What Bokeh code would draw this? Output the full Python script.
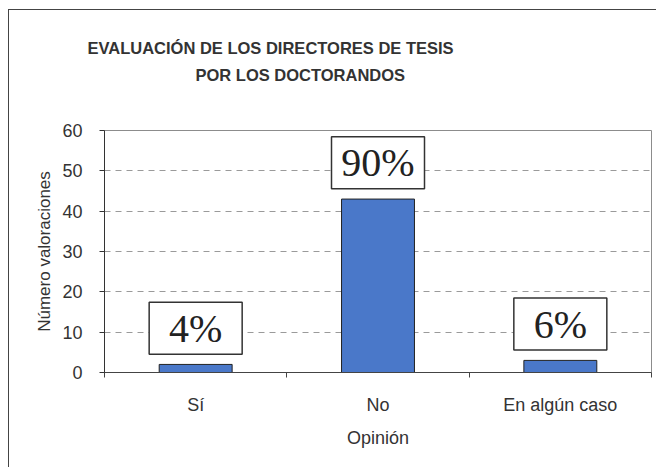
from bokeh.plotting import figure
from bokeh.models import FixedTicker, Title, ColumnDataSource, Range1d
from bokeh.core.properties import value
from bokeh.embed import file_html
from bokeh.resources import INLINE

# Survey data
categories = ["Sí", "No", "En algún caso"]
counts = [2, 43, 3]
y_ticks = [0, 10, 20, 30, 40, 50, 60]
title_lines = ["EVALUACIÓN DE LOS DIRECTORES DE TESIS", "POR LOS DOCTORANDOS"]

total = sum(counts)
percent_labels = [f"{round(100 * c / total)}%" for c in counts]
xs = [i + 0.5 for i in range(len(categories))]
label_y = [c + 9 for c in counts]

src = ColumnDataSource(dict(x=xs, count=counts, pct=percent_labels, ly=label_y))

SANS = "Liberation Sans"
SERIF = "Liberation Serif"
TXT = "#333333"

p = figure(width=648, height=458, output_backend="svg", toolbar_location=None,
           x_range=Range1d(0, len(categories)), y_range=Range1d(0, 60),
           min_border_left=95, min_border_right=6, min_border_top=120,
           min_border_bottom=96)
p.styles = {"margin-left": "8px", "margin-top": "9px",
            "border-left": "1px solid #444", "border-top": "1px solid #444"}
p.background_fill_color = "white"
p.border_fill_color = "white"
p.outline_line_color = "#8c8c8c"
p.outline_line_width = 1

# two-line heading; the lower line is added first so it sits nearer the frame
p.add_layout(Title(text=title_lines[1], align="left", offset=91, vertical_align="middle",
                   text_font=SANS, text_font_size="16.5px", text_font_style="bold",
                   text_color=TXT, standoff=91), "above")
p.add_layout(Title(text=title_lines[0], align="left", offset=-17, vertical_align="bottom",
                   text_font=SANS, text_font_size="16.5px", text_font_style="bold",
                   text_color=TXT, standoff=-75), "above")

# bars
p.vbar(x="x", top="count", width=0.4, source=src,
       fill_color="#4a78c9", line_color="#222222", line_width=1)

# percentage boxes
p.rect(x="x", y="ly", width=93, height=52, width_units="screen", height_units="screen",
       source=src, fill_color="white", line_color="#333333", line_width=1.5)
p.text(x="x", y="ly", text="pct", source=src, text_font=value(SERIF),
       text_font_size=value("40px"), text_align="center", text_baseline="middle",
       text_color="#222222")

# grid
p.xgrid.visible = False
p.ygrid.ticker = FixedTicker(ticks=y_ticks)
p.ygrid.grid_line_color = "#9a9a9a"
p.ygrid.grid_line_dash = "6 5"
p.ygrid.grid_line_width = 1

# y axis
p.yaxis.ticker = FixedTicker(ticks=y_ticks)
p.yaxis.axis_label = "Número valoraciones"
p.yaxis.axis_label_text_font = SANS
p.yaxis.axis_label_text_font_size = "17px"
p.yaxis.axis_label_text_font_style = "normal"
p.yaxis.axis_label_text_color = TXT
p.yaxis.axis_label_standoff = 5
p.yaxis.major_label_text_font = SANS
p.yaxis.major_label_text_font_size = "18px"
p.yaxis.major_label_text_color = TXT
p.yaxis.major_label_standoff = 17
p.yaxis.major_tick_out = 5
p.yaxis.major_tick_in = 0
p.yaxis.minor_tick_line_color = None
p.yaxis.axis_line_color = "#333333"
p.yaxis.major_tick_line_color = "#333333"

# x axis: labels at category centres, ticks between categories
p.xaxis.ticker = FixedTicker(ticks=xs, minor_ticks=list(range(len(categories) + 1)))
p.xaxis.major_label_overrides = {x: c for x, c in zip(xs, categories)}
p.xaxis.major_tick_line_color = None
p.xaxis.major_tick_out = 0
p.xaxis.major_tick_in = 0
p.xaxis.minor_tick_out = 5
p.xaxis.minor_tick_in = 0
p.xaxis.minor_tick_line_color = "#444444"
p.xaxis.axis_line_color = "#444444"
p.xaxis.major_label_text_font = SANS
p.xaxis.major_label_text_font_size = "18px"
p.xaxis.major_label_text_color = TXT
p.xaxis.major_label_standoff = 17
p.xaxis.axis_label = "Opinión"
p.xaxis.axis_label_text_font = SANS
p.xaxis.axis_label_text_font_size = "18px"
p.xaxis.axis_label_text_font_style = "normal"
p.xaxis.axis_label_text_color = TXT
p.xaxis.axis_label_standoff = 10

open("out.html", "w").write(file_html(p, INLINE))
